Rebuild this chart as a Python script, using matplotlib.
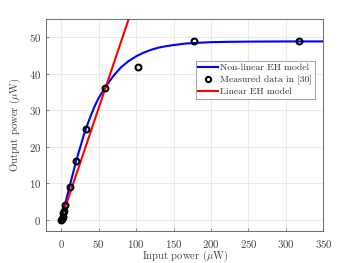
import matplotlib
matplotlib.use("Agg")
import matplotlib.pyplot as plt

# Non-linear EH model curve
model_x = [0, 5, 10, 15, 20, 25, 30, 35, 40, 45, 50, 55, 60, 70, 80, 90, 100,
           110, 120, 130, 140, 150, 165, 180, 200, 225, 250, 300, 350]
model_y = [0, 4.0, 8.0, 12.0, 16.0, 19.5, 23.0, 26.0, 28.7, 31.2, 33.3, 35.0,
           36.6, 39.5, 41.8, 43.5, 44.8, 45.8, 46.6, 47.2, 47.6, 47.9, 48.3,
           48.5, 48.7, 48.8, 48.85, 48.9, 48.9]

# Measured data
meas_x = [0, 1, 2, 3, 4, 5.5, 12, 20, 33, 58, 102, 178, 317]
meas_y = [0, 0.3, 0.8, 1.8, 2.5, 3.9, 9, 16, 25, 36, 42, 49, 49]

# Linear EH model
lin_x = [0, 100]
lin_slope = 0.61
lin_y = [lin_slope * v for v in lin_x]

xticks = [0, 50, 100, 150, 200, 250, 300, 350]
yticks = [0, 10, 20, 30, 40, 50]

plt.rcParams['font.family'] = 'serif'
plt.rcParams['font.serif'] = ['cmr10', 'DejaVu Serif']
plt.rcParams['mathtext.fontset'] = 'cm'
plt.rcParams['axes.formatter.use_mathtext'] = True

fig = plt.figure(figsize=(3.57, 2.63), dpi=100)
ax = fig.add_axes([0.129, 0.123, 0.777, 0.804])

ax.plot(model_x, model_y, color='#0000ff', lw=1.5, label='Non-linear EH model', zorder=3)
ax.plot(meas_x, meas_y, linestyle='none', marker='o', markersize=4.2,
        markerfacecolor='none', markeredgecolor='black', markeredgewidth=1.5,
        label='Measured data in [30]', zorder=4)
ax.plot(lin_x, lin_y, color='#ff0000', lw=1.5, label='Linear EH model', zorder=3)

ax.set_xlim(-20, 350)
ax.set_ylim(-3, 55)
ax.set_xticks(xticks)
ax.set_yticks(yticks)
ax.grid(True, color='#e6e6e6', lw=0.6)
ax.set_axisbelow(True)
for s in ax.spines.values():
    s.set_color('#555555')
    s.set_linewidth(0.6)
ax.tick_params(direction='in', length=2.5, width=0.5, colors='#555555',
               labelsize=7.8, labelcolor='#404040')
ax.tick_params(axis='x', pad=5)
ax.tick_params(axis='y', pad=3.5)
ax.set_xlabel(r'Input power ($\mu$W)', fontsize=7.6, color='#404040', labelpad=-0.5)
ax.set_ylabel(r'Output power ($\mu$W)', fontsize=7.6, color='#404040', labelpad=4)

leg = ax.legend(loc='upper left', bbox_to_anchor=(0.539, 0.804), borderaxespad=0,
                fontsize=7.0, frameon=True, fancybox=False, handlelength=2.0,
                handletextpad=0.25, borderpad=0.3, labelspacing=0.3,
                markerscale=0.9)
leg.get_frame().set_edgecolor('#777777')
leg.get_frame().set_linewidth(0.6)
for t in leg.get_texts():
    t.set_color('#303030')

fig.savefig('out.png', dpi=100)
